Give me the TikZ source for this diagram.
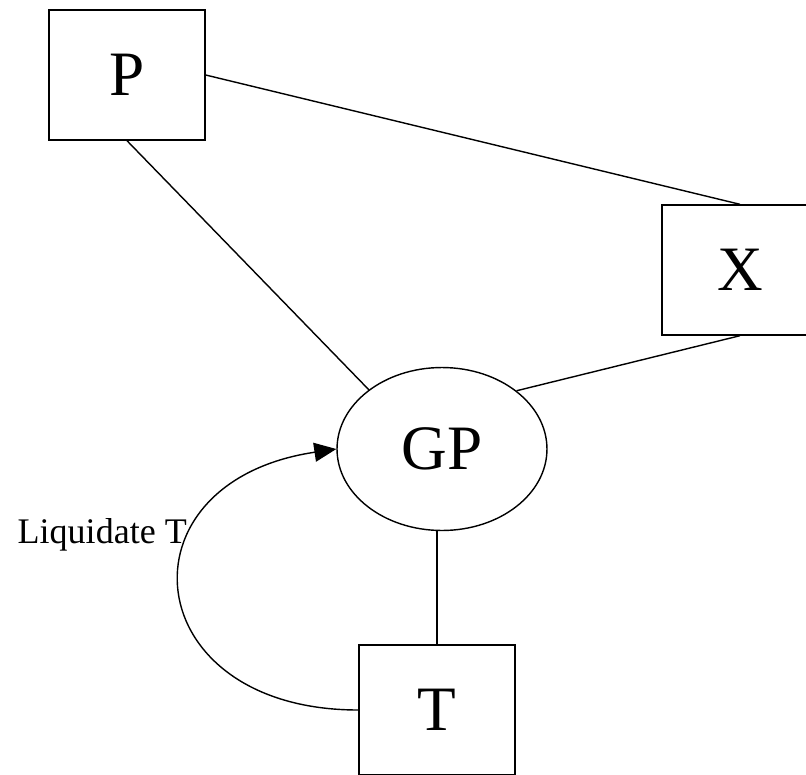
\documentclass[tikz,border=0pt]{standalone}
\usepackage{fontspec}
\setmainfont{Liberation Serif}
\usetikzlibrary{arrows.meta,shapes.geometric}

\begin{document}
\begin{tikzpicture}[x=0.02cm,y=-0.02cm,line width=0.8pt,
         party/.style = {draw,rectangle,minimum width=3.12cm,minimum height=2.6cm,
            inner sep=0pt,font=\fontsize{36}{40}\selectfont},
         partner/.style = {draw,ellipse,minimum width=4.2cm,minimum height=3.26cm,
            inner sep=0pt,font=\fontsize{36}{40}\selectfont},
         link/.style = {line width=0.8pt},
         liquidate/.style = {line width=0.8pt,-{Triangle[length=0.44cm,width=0.38cm]}}
]
   \useasboundingbox (0,0) rectangle (806,775);
   \clip (0,0) rectangle (806,775);

   \node[party]   (P)  at (127,75)  {P};
   \node[party]   (X)  at (740,270) {X};
   \node[partner] (GP) at (442,449) {GP};
   \node[party]   (T)  at (437,710) {T};

   \draw[link] (P.east) -- (X.north);
   \draw[link] (P.south) -- (GP.141);
   \draw[link] (X.south) -- (GP.38);
   \draw[link] (GP.south -| T.north) -- (T.north);

   % loop back from T to GP
   \draw[liquidate] (T.west) .. controls +(-222,0) and +(-222,33) .. (GP.west);
   \node[anchor=base west,inner sep=0pt,font=\fontsize{20.5}{24}\selectfont] (lab) at (17,543) {Liquidate T};
\end{tikzpicture}
\end{document}
